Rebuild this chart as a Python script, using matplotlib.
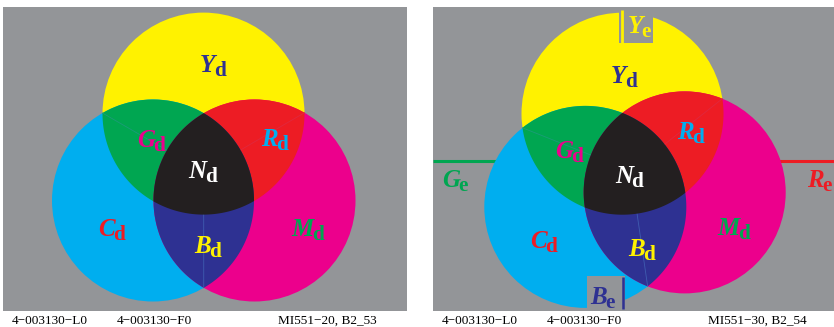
import numpy as np
import matplotlib
matplotlib.use('Agg')
from matplotlib import pyplot as plt
from matplotlib.patches import Circle, Polygon, Rectangle

# colours (process inks)
GREY = '#939598'
YELLOW = '#fff200'
CYAN = '#00aeef'
MAGENTA = '#ec008c'
GREEN = '#00a651'
RED = '#ed1c24'
BLUE = '#2e3192'
BLACK = '#231f20'

# circle centres (pixels, y down), common radius
radius = 101
left_x = [203.5, 153.0, 254.5]     # Y, C, M
left_y = [113.6, 200.5, 200.5]
right_x = [622.5, 585.3, 684.7]
right_y = [113.7, 206.9, 192.4]

# region labels: capital, colour
letters = ['Y', 'G', 'R', 'N', 'C', 'M', 'B']
letter_colours = [BLUE, MAGENTA, CYAN, 'white', RED, GREEN, YELLOW]
left_lab_x = [200, 136.7, 261, 188.3, 97.7, 291.7, 194]
left_lab_y = [71.7, 146.7, 145.7, 177.7, 236, 236, 253.3]
right_lab_x = [611, 555, 676.7, 615, 530, 717.7, 628.3]
right_lab_y = [83.3, 158.3, 139.3, 182.7, 248.3, 235, 256]

# edge (e) labels on the right panel
edge_letters = ['Y', 'B', 'G', 'R']
edge_colours = [YELLOW, BLUE, GREEN, RED]
edge_x = [628, 590, 441.7, 806.7]
edge_y = [33.3, 304.5, 186.7, 186.7]

footer_left = ['4\u2212003130\u2212L0', '4\u2212003130\u2212F0', 'MI551\u221220, B2_53']
footer_right = ['4\u2212003130\u2212L0', '4\u2212003130\u2212F0', 'MI551\u221230, B2_54']
footer_left_x = [11.7, 116.7, 278.3]
footer_right_x = [441.7, 546.7, 708.3]

SERIF = 'Liberation Serif'


def region(centres, r, n=1440):
    # intersection of circles -> convex polygon
    pts = []
    t = np.linspace(0, 2 * np.pi, n, endpoint=False)
    for i, (cx, cy) in enumerate(centres):
        px = cx + r * np.cos(t)
        py = cy + r * np.sin(t)
        ok = np.ones(n, bool)
        for j, (ox, oy) in enumerate(centres):
            if j != i:
                ok &= np.hypot(px - ox, py - oy) <= r + 1e-6
        pts.append(np.column_stack([px[ok], py[ok]]))
    pts = np.vstack(pts)
    m = pts.mean(axis=0)
    order = np.argsort(np.arctan2(pts[:, 1] - m[1], pts[:, 0] - m[0]))
    return pts[order]


def outer_point(a, b, r, away):
    # intersection of circles a and b farther from point 'away'
    a = np.array(a); b = np.array(b)
    d = np.linalg.norm(b - a)
    mid = (a + b) / 2
    h = np.sqrt(r ** 2 - (d / 2) ** 2)
    perp = np.array([-(b - a)[1], (b - a)[0]]) / d
    p1, p2 = mid + h * perp, mid - h * perp
    return p1 if np.linalg.norm(p1 - away) > np.linalg.norm(p2 - away) else p2


def draw_venn(ax, xs, ys):
    Y, C, M = list(zip(xs, ys))
    for c, col in [(Y, YELLOW), (C, CYAN), (M, MAGENTA)]:
        ax.add_patch(Circle(c, radius, fc=col, ec='none', zorder=2))
    for pair, col in [((Y, C), GREEN), ((Y, M), RED), ((C, M), BLUE)]:
        ax.add_patch(Polygon(region(pair, radius), closed=True, fc=col, ec='none', zorder=3))
    # faint seams of the original artwork
    cen = np.array([np.mean(xs), np.mean(ys)])
    for pair, third, col in [((Y, C), M, '#1b9c78'), ((Y, M), C, '#e0283e'), ((C, M), Y, '#3f5cb0')]:
        p = outer_point(pair[0], pair[1], radius, np.array(third))
        ax.plot([p[0], cen[0]], [p[1], cen[1]], color=col, lw=0.6, zorder=4)
    ax.add_patch(Polygon(region((Y, C, M), radius), closed=True, fc=BLACK, ec='none', zorder=5))


def put_label(ax, x, y, cap, sub, colour, size, subs):
    t = ax.text(x, y, cap, family=SERIF, weight='bold', style='italic', size=size,
                color=colour, ha='left', va='baseline', zorder=10)
    subs.append((t, sub, colour, size))


fig = plt.figure(figsize=(8.34, 3.27), dpi=100)
ax = fig.add_axes([0, 0, 1, 1])
ax.set_xlim(0, 834)
ax.set_ylim(327, 0)
ax.axis('off')

# panels
ax.add_patch(Rectangle((3, 7), 404, 304, fc=GREY, ec='none', zorder=0))
ax.add_patch(Rectangle((433, 7), 401, 304, fc=GREY, ec='none', zorder=0))

draw_venn(ax, left_x, left_y)
draw_venn(ax, right_x, right_y)

# edge markers on right panel
ax.plot([433, 540], [161, 161], color=GREEN, lw=2.2, zorder=1, solid_capstyle='butt')
ax.plot([740, 834], [161, 161], color=RED, lw=2.2, zorder=1, solid_capstyle='butt')
ax.add_patch(Rectangle((619, 7), 34, 36, fc=GREY, ec='none', zorder=6))
ax.plot([622.3, 622.3], [10, 43], color=YELLOW, lw=2.0, zorder=7, solid_capstyle='butt')
ax.add_patch(Rectangle((587, 276), 38, 35, fc=GREY, ec='none', zorder=6))
ax.plot([623.5, 623.5], [277, 309], color=BLUE, lw=1.8, zorder=7, solid_capstyle='butt')

subs = []
for i, L in enumerate(letters):
    put_label(ax, left_lab_x[i], left_lab_y[i], L, 'd', letter_colours[i], 18, subs)
    put_label(ax, right_lab_x[i], right_lab_y[i], L, 'd', letter_colours[i], 18, subs)
for i, L in enumerate(edge_letters):
    put_label(ax, edge_x[i], edge_y[i], L, 'e', edge_colours[i], 18, subs)

fig.canvas.draw()
renderer = fig.canvas.get_renderer()
inv = ax.transData.inverted()
for t, sub, colour, size in subs:
    bb = t.get_window_extent(renderer)
    x1 = inv.transform((bb.x1, bb.y0))[0]
    x0, y0 = t.get_position()
    ax.text(x1 - 1.5, y0 + 4, sub, family=SERIF, weight='bold', size=size * 0.85,
            color=colour, ha='left', va='baseline', zorder=10)

for s, x in zip(footer_left, footer_left_x):
    ax.text(x, 323.5, s, family=SERIF, size=9.5, color='black', ha='left', va='baseline')
for s, x in zip(footer_right, footer_right_x):
    ax.text(x, 323.5, s, family=SERIF, size=9.5, color='black', ha='left', va='baseline')

fig.savefig('out.png', dpi=100, facecolor='white')
